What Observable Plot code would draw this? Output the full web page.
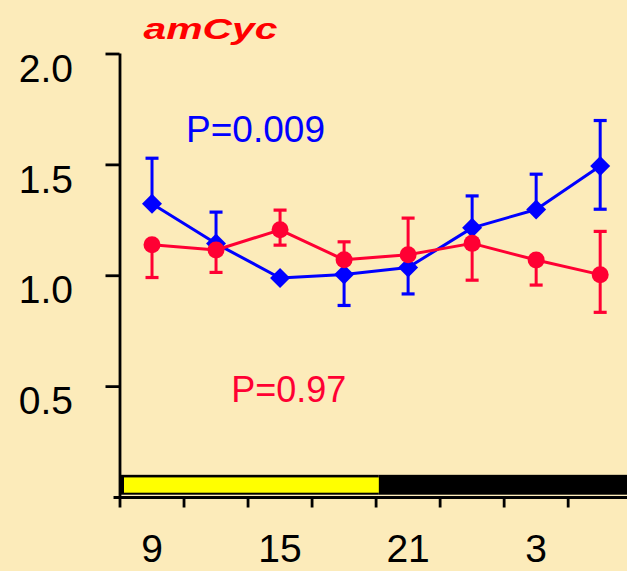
<!DOCTYPE html>
<html>
<head>
<meta charset="utf-8">
<script src="https://cdn.jsdelivr.net/npm/d3@7"></script>
<script src="https://cdn.jsdelivr.net/npm/@observablehq/plot@0.6"></script>
<style>
  html, body { margin: 0; padding: 0; background: #FCEBBA; }
  #chart svg { display: block; }
</style>
</head>
<body>
<div id="chart"></div>
<script>
// ---- data ----
const hours = [9, 12, 15, 18, 21, 24, 27, 30];
const blueMean  = [1.325, 1.145, 0.990, 1.006, 1.037, 1.216, 1.299, 1.495];
const blueUpper = [1.530, 1.287, null, null, null, 1.360, 1.458, 1.700];
const blueLower = [null, null, null, 0.866, 0.918, null, null, 1.300];
const redMean   = [1.140, 1.116, 1.207, 1.072, 1.095, 1.146, 1.071, 1.005];
const redUpper  = [null, null, 1.296, 1.153, 1.260, null, null, 1.200];
const redLower  = [0.992, 1.015, 1.138, null, null, 0.980, 0.958, 0.835];
const yTicks = [0.5, 1.0, 1.5, 2.0];
const xTickHours = [7.5, 10.5, 13.5, 16.5, 19.5, 22.5, 25.5, 28.5];
const xLabelHours = [9, 15, 21, 27];
const xLabels = ["9", "15", "21", "3"];
const lightPhase = [{start: 7.5, end: 19.65}];
const darkPhase = [{start: 19.65, end: 31.5}];
const titleText = "amCyc";
const pBlue = "P=0.009";
const pRed = "P=0.97";

// ---- build ----
const BLUE = "#0000FF", RED = "#FF0033", BG = "#FCEBBA";
const mk = (m, u, l) => hours.map((h, i) => ({hour: h, mean: m[i], upper: u[i], lower: l[i]}));
const blue = mk(blueMean, blueUpper, blueLower);
const red = mk(redMean, redUpper, redLower);
const labelMap = new Map(xLabelHours.map((h, i) => [h, xLabels[i]]));
const capSymbol = {draw(ctx, size) { const r = Math.sqrt(size / Math.PI); ctx.moveTo(-r, 0); ctx.lineTo(r, 0); }};

function series(data, color, symbol, r) {
  const up = data.filter(d => d.upper != null);
  const lo = data.filter(d => d.lower != null);
  return [
    Plot.ruleX(up, {x: "hour", y1: "mean", y2: "upper", stroke: color, strokeWidth: 3}),
    Plot.ruleX(lo, {x: "hour", y1: "mean", y2: "lower", stroke: color, strokeWidth: 3}),
    Plot.dot(up, {x: "hour", y: "upper", symbol: capSymbol, r: 6.5, stroke: color, fill: "none", strokeWidth: 3.2}),
    Plot.dot(lo, {x: "hour", y: "lower", symbol: capSymbol, r: 6.5, stroke: color, fill: "none", strokeWidth: 3.2}),
    Plot.line(data, {x: "hour", y: "mean", stroke: color, strokeWidth: 3}),
    Plot.dot(data, {x: "hour", y: "mean", symbol, r, fill: color, stroke: "none"})
  ];
}

const chart = Plot.plot({
  width: 627,
  height: 571,
  marginLeft: 119.5,
  marginRight: 0,
  marginTop: 53.5,
  marginBottom: 74,
  x: {domain: [7.5, 31.28], label: null},
  y: {domain: [0, 2], label: null},
  style: {background: BG, color: "black", fontFamily: "'Liberation Sans', Arial, sans-serif", overflow: "visible"},
  marks: [
    Plot.rect(darkPhase, {x1: "start", x2: "end", y1: 0, y2: 0.1, fill: "black", insetLeft: 0, insetBottom: 2.3}),
    Plot.rect(lightPhase, {x1: "start", x2: "end", y1: 0, y2: 0.1, fill: "black", insetLeft: 1.2, insetBottom: 2.3}),
    Plot.rect(lightPhase, {x1: "start", x2: "end", y1: 0, y2: 0.1, fill: "#FFFF00", insetLeft: 4.5, insetTop: 2.6, insetBottom: 4.3}),
    Plot.ruleX([7.5], {y1: 0, y2: 2, stroke: "black", strokeWidth: 2.8}),
    Plot.ruleY([0], {x1: 7.22, x2: 31.5, stroke: "black", strokeWidth: 2.8}),
    Plot.axisY(yTicks, {tickSize: 14, tickPadding: 33, fontSize: 39, lineAnchor: "top", tickFormat: d3.format(".1f"), strokeWidth: 2.8, label: null}),
    Plot.axisX(xTickHours, {tickSize: 10.5, tickFormat: () => "", strokeWidth: 2.8, label: null}),
    Plot.axisX(xLabelHours, {tickSize: 0, tickPadding: 37, fontSize: 39, tickFormat: d => labelMap.get(d), label: null}),
    ...series(blue, BLUE, "diamond2", 9),
    ...series(red, RED, "circle", 8.5),
    Plot.text([pBlue], {x: 13.85, y: 1.655, text: d => d, fontSize: 37, fill: BLUE}),
    Plot.text([pRed], {x: 15.41, y: 0.484, text: d => d, fontSize: 36, fill: RED}),
    Plot.text([titleText], {x: 11.74, y: 2.112, text: d => d, fontSize: 30, fontWeight: "bold", fontStyle: "italic", fill: "#FF0000", className: "title-mark"})
  ]
});

d3.select(chart).selectAll(".title-mark text")
  .attr("textLength", 134)
  .attr("lengthAdjust", "spacingAndGlyphs");

document.getElementById("chart").appendChild(chart);
</script>
</body>
</html>
